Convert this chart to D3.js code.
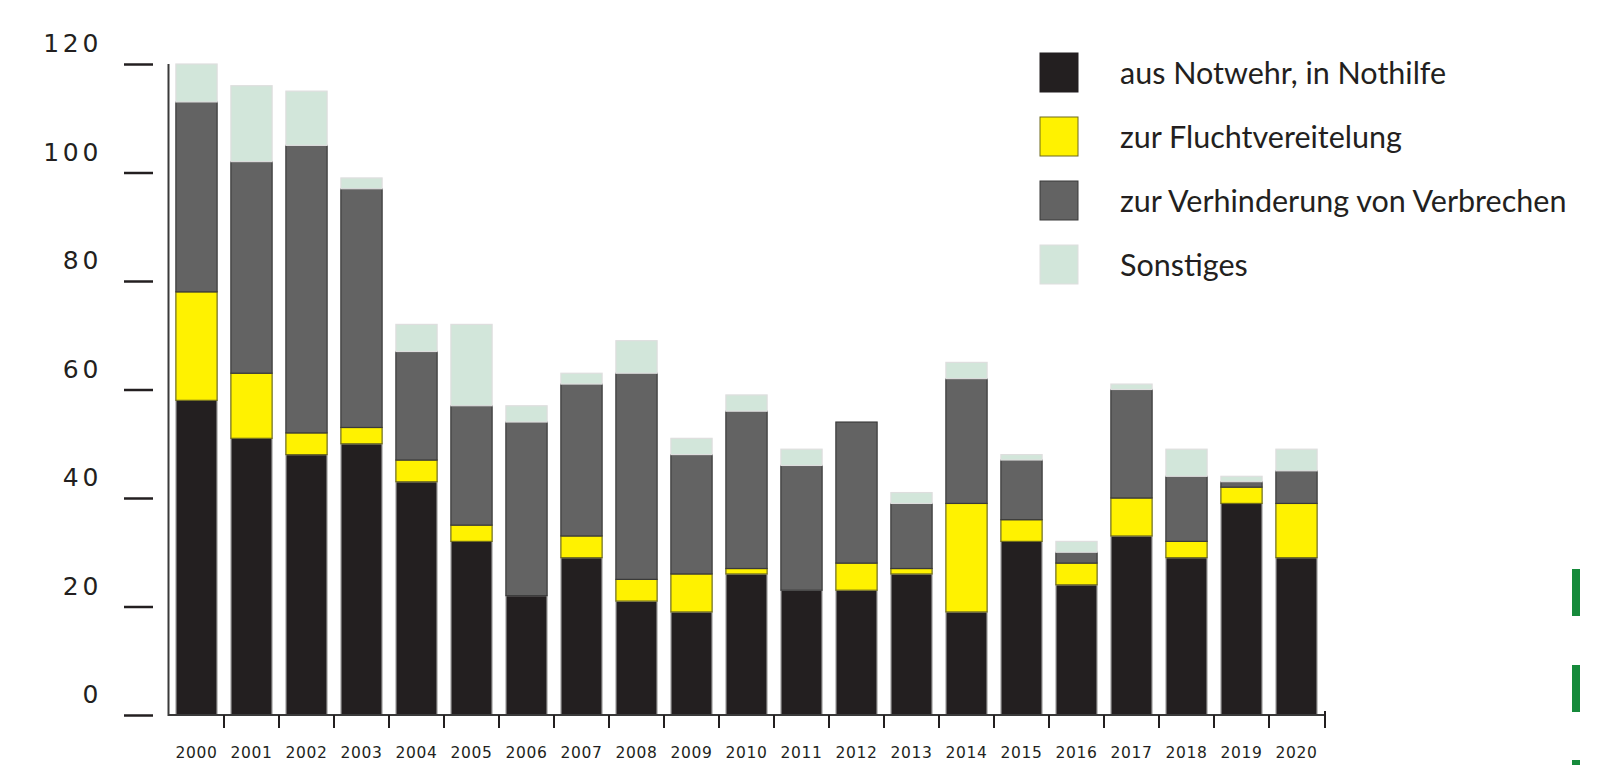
<!DOCTYPE html>
<html>
<head>
<meta charset="utf-8">
<script src="https://cdn.jsdelivr.net/npm/d3@7"></script>
<style>
  html, body { margin: 0; padding: 0; background: #fff; }
  svg { display: block; }
</style>
</head>
<body>
<div id="chart"></div>
<script>
// Data.
var years = ["2000", "2001", "2002", "2003", "2004", "2005", "2006", "2007", "2008", "2009", "2010",
             "2011", "2012", "2013", "2014", "2015", "2016", "2017", "2018", "2019", "2020"];
var notwehr    = [58, 51, 48, 50, 43, 32, 22, 29, 21, 19, 26, 23, 23, 26, 19, 32, 24, 33, 29, 39, 29];
var flucht     = [20, 12, 4, 3, 4, 3, 0, 4, 4, 7, 1, 0, 5, 1, 20, 4, 4, 7, 3, 3, 10];
var verbrechen = [35, 39, 53, 44, 20, 22, 32, 28, 38, 22, 29, 23, 26, 12, 23, 11, 2, 20, 12, 1, 6];
var sonstiges  = [7, 14, 10, 2, 5, 15, 3, 2, 6, 3, 3, 3, 0, 2, 3, 1, 2, 1, 5, 1, 4];
var seriesNames = ["aus Notwehr, in Nothilfe", "zur Fluchtvereitelung",
                   "zur Verhinderung von Verbrechen", "Sonstiges"];
var yTicks = [0, 20, 40, 60, 80, 100, 120];

var divWidth = 1611,
    divHeight = 765,
    textColor = "#231f20";

var fills   = ["#231f20", "#fff200", "#636363", "#d2e6da"];
var strokes = ["#b9b9b9", "#6e6a1c", "#3a3a3a", "#dedede"];

var svg = d3.select("#chart")
  .append("svg")
  .attr("width", divWidth)
  .attr("height", divHeight);

var xScale = d3.scaleBand()
  .domain(years)
  .range([169, 1324])
  .paddingInner(0.25)
  .paddingOuter(0.125);

var yScale = d3.scaleLinear()
  .domain([0, 120])
  .range([715, 64]);

// Convert the arrays to wide rows for stacking.
var keys = ["notwehr", "flucht", "verbrechen", "sonstiges"];
var wideData = years.map(function (y, i) {
  return {year: y, notwehr: notwehr[i], flucht: flucht[i], verbrechen: verbrechen[i], sonstiges: sonstiges[i]};
});
var series = d3.stack().keys(keys)(wideData);

svg.selectAll("g.layer")
  .data(series)
  .join("g")
    .attr("class", "layer")
    .attr("fill", (d, i) => fills[i])
    .attr("stroke", (d, i) => strokes[i])
    .attr("stroke-width", 1.2)
  .selectAll("rect")
  .data(d => d.filter(p => p[1] - p[0] > 0))
  .join("rect")
    .attr("x", d => xScale(d.data.year))
    .attr("width", xScale.bandwidth())
    .attr("y", d => yScale(d[1]))
    .attr("height", d => yScale(d[0]) - yScale(d[1]));

// y axis: ticks stand apart from the axis line, labels sit above the ticks.
var yAxis = d3.axisLeft(yScale).tickValues(yTicks).tickSize(29).tickPadding(0);
var yG = svg.append("g")
  .attr("class", "y-axis")
  .attr("transform", "translate(153,0)")
  .call(yAxis);
yG.select(".domain").remove();
yG.selectAll(".tick line").attr("stroke", textColor).attr("stroke-width", 2.5);
yG.selectAll(".tick text")
  .attr("x", -51)
  .attr("dy", -12.5)
  .attr("fill", textColor)
  .style("font-family", "'DejaVu Sans', Verdana, sans-serif")
  .style("font-size", "25px")
  .style("letter-spacing", "3.7px");

svg.append("line")
  .attr("x1", 168.5).attr("x2", 168.5)
  .attr("y1", yScale(120)).attr("y2", yScale(0) + 1)
  .attr("stroke", "#3a3a3a").attr("stroke-width", 2);

// x axis: labels under each band, ticks on the band boundaries.
var xAxis = d3.axisBottom(xScale).tickSize(0).tickPadding(0);
var xG = svg.append("g")
  .attr("class", "x-axis")
  .attr("transform", "translate(0,715)")
  .call(xAxis);
xG.select(".domain").remove();
xG.selectAll(".tick text")
  .attr("y", 43)
  .attr("dy", 0)
  .attr("fill", textColor)
  .style("font-family", "'DejaVu Sans', Verdana, sans-serif")
  .style("font-size", "15.5px")
  .style("letter-spacing", "0.6px");

svg.append("line")
  .attr("x1", 168).attr("x2", 1325)
  .attr("y1", 715).attr("y2", 715)
  .attr("stroke", "#3a3a3a").attr("stroke-width", 2);

var half = xScale.step() * xScale.paddingInner() / 2;
svg.selectAll("line.xtick")
  .data(years.slice(1))
  .join("line")
    .attr("class", "xtick")
    .attr("x1", d => xScale(d) - half).attr("x2", d => xScale(d) - half)
    .attr("y1", 715).attr("y2", 728)
    .attr("stroke", textColor).attr("stroke-width", 2);

svg.append("line")
  .attr("x1", 1325).attr("x2", 1325)
  .attr("y1", 711).attr("y2", 728)
  .attr("stroke", textColor).attr("stroke-width", 2);

// Legend.
var legend = svg.selectAll("g.legend")
  .data(seriesNames)
  .join("g")
    .attr("class", "legend")
    .attr("transform", (d, i) => "translate(1040," + (53 + i * 64) + ")");

legend.append("rect")
  .attr("width", 38)
  .attr("height", 39)
  .attr("fill", (d, i) => fills[i])
  .attr("stroke", (d, i) => i == 0 ? fills[0] : strokes[i])
  .attr("stroke-width", 1);

legend.append("text")
  .attr("x", 80)
  .attr("y", 31)
  .attr("fill", textColor)
  .style("font-family", "Lato, 'Open Sans', sans-serif")
  .style("font-size", "30.5px")
  .text(d => d);

// Green marks at the right edge.
svg.selectAll("rect.mark")
  .data([569, 665, 760])
  .join("rect")
    .attr("class", "mark")
    .attr("x", 1572)
    .attr("y", d => d)
    .attr("width", 8)
    .attr("height", 47)
    .attr("fill", "#168a3b");
</script>
</body>
</html>
